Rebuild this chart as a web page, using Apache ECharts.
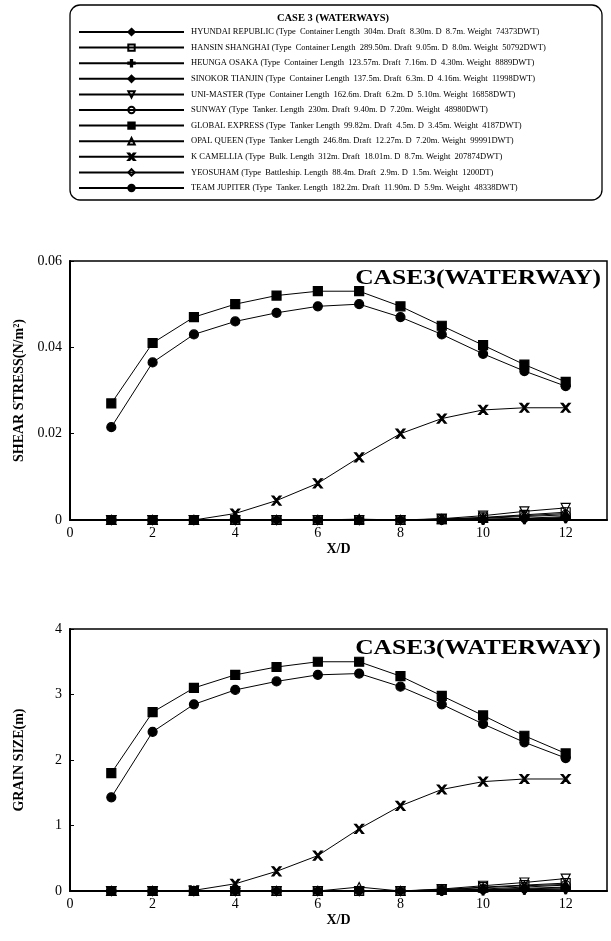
<!DOCTYPE html>
<html>
<head>
<meta charset="utf-8">
<script src="https://cdn.jsdelivr.net/npm/echarts@6/dist/echarts.min.js"></script>
<style>
  body { margin: 0; background: #fff; }
  #chart { width: 611px; height: 941px; }
</style>
</head>
<body>
<div id="chart"></div>
<script>
  // x positions (X/D)
  var xd = [1, 2, 3, 4, 5, 6, 7, 8, 9, 10, 11, 12];

  var shipNames = [
    'HYUNDAI REPUBLIC (Type  Container Length  304m. Draft  8.30m. D  8.7m. Weight  74373DWT)',
    'HANSIN SHANGHAI (Type  Container Length  289.50m. Draft  9.05m. D  8.0m. Weight  50792DWT)',
    'HEUNGA OSAKA (Type  Container Length  123.57m. Draft  7.16m. D  4.30m. Weight  8889DWT)',
    'SINOKOR TIANJIN (Type  Container Length  137.5m. Draft  6.3m. D  4.16m. Weight  11998DWT)',
    'UNI-MASTER (Type  Container Length  162.6m. Draft  6.2m. D  5.10m. Weight  16858DWT)',
    'SUNWAY (Type  Tanker. Length  230m. Draft  9.40m. D  7.20m. Weight  48980DWT)',
    'GLOBAL EXPRESS (Type  Tanker Length  99.82m. Draft  4.5m. D  3.45m. Weight  4187DWT)',
    'OPAL QUEEN (Type  Tanker Length  246.8m. Draft  12.27m. D  7.20m. Weight  99991DWT)',
    'K CAMELLIA (Type  Bulk. Length  312m. Draft  18.01m. D  8.7m. Weight  207874DWT)',
    'YEOSUHAM (Type  Battleship. Length  88.4m. Draft  2.9m. D  1.5m. Weight  1200DT)',
    'TEAM JUPITER (Type  Tanker. Length  182.2m. Draft  11.90m. D  5.9m. Weight  48338DWT)'
  ];

  // shear stress (N/m2)
  var stressHyundai  = [0, 0, 0, 0, 0, 0, 0, 0, 0, 0.0002, 0.0004, 0.0008];
  var stressHansin   = [0, 0, 0, 0, 0, 0, 0, 0, 0.0002, 0.0006, 0.0012, 0.0018];
  var stressHeunga   = [0, 0, 0, 0, 0, 0, 0, 0, 0, 0, 0.0002, 0.0004];
  var stressSinokor  = [0, 0, 0, 0, 0, 0, 0, 0, 0, 0.0001, 0.0003, 0.0006];
  var stressUni      = [0, 0, 0, 0, 0, 0, 0, 0, 0.0003, 0.001, 0.002, 0.0028];
  var stressSunway   = [0, 0, 0, 0, 0, 0, 0, 0, 0.0001, 0.0004, 0.0008, 0.0012];
  var stressGlobal   = [0.027, 0.041, 0.047, 0.050, 0.052, 0.053, 0.053, 0.0495, 0.045, 0.0405, 0.036, 0.032];
  var stressOpal     = [0, 0, 0, 0, 0, 0, 0.0002, 0, 0.0002, 0.0005, 0.001, 0.0015];
  var stressCamellia = [0, 0, 0, 0.0015, 0.0045, 0.0085, 0.0145, 0.020, 0.0235, 0.0255, 0.026, 0.026];
  var stressYeosu    = [0, 0, 0, 0, 0, 0, 0, 0, 0, 0.0001, 0.0002, 0.0004];
  var stressJupiter  = [0.0215, 0.0365, 0.043, 0.046, 0.048, 0.0495, 0.050, 0.047, 0.043, 0.0385, 0.0345, 0.031];

  // grain size (m)
  var grainHyundai  = [0, 0, 0, 0, 0, 0, 0, 0, 0.01, 0.02, 0.04, 0.06];
  var grainHansin   = [0, 0, 0, 0, 0, 0, 0, 0, 0.02, 0.06, 0.09, 0.12];
  var grainHeunga   = [0, 0, 0, 0, 0, 0, 0, 0, 0, 0.01, 0.02, 0.03];
  var grainSinokor  = [0, 0, 0, 0, 0, 0, 0, 0, 0.01, 0.02, 0.03, 0.05];
  var grainUni      = [0, 0, 0, 0, 0, 0, 0, 0, 0.03, 0.08, 0.13, 0.19];
  var grainSunway   = [0, 0, 0, 0, 0, 0, 0, 0, 0.01, 0.03, 0.06, 0.09];
  var grainGlobal   = [1.8, 2.73, 3.1, 3.3, 3.42, 3.5, 3.5, 3.28, 2.98, 2.68, 2.37, 2.1];
  var grainOpal     = [0, 0, 0, 0, 0, 0, 0.06, 0, 0.02, 0.05, 0.08, 0.1];
  var grainCamellia = [0, 0, 0.01, 0.11, 0.3, 0.54, 0.95, 1.3, 1.55, 1.67, 1.71, 1.71];
  var grainYeosu    = [0, 0, 0, 0, 0, 0, 0, 0, 0, 0.01, 0.02, 0.03];
  var grainJupiter  = [1.43, 2.43, 2.85, 3.07, 3.2, 3.3, 3.32, 3.12, 2.85, 2.55, 2.27, 2.03];

  var xTicks = [0, 2, 4, 6, 8, 10, 12];
  var stressTicks = [0, 0.02, 0.04, 0.06];
  var grainTicks = [0, 1, 2, 3, 4];

  var X_PATH = 'path://M0,0 L2,0 L5,3 L8,0 L10,0 L6,4 L6,4 L10,8 L8,8 L5,5 L2,8 L0,8 L4,4 Z';
  var HOLLOW = 'rgba(255,255,255,0)';
  var markers = [
    { symbol: 'diamond', fill: '#000' },
    { symbol: 'rect', fill: HOLLOW },
    { symbol: 'path://M4,0 L6,0 L6,4 L10,4 L10,6 L6,6 L6,10 L4,10 L4,6 L0,6 L0,4 L4,4 Z', fill: '#000' },
    { symbol: 'diamond', fill: '#000' },
    { symbol: 'triangle', fill: HOLLOW, rotate: 180 },
    { symbol: 'circle', fill: HOLLOW },
    { symbol: 'rect', fill: '#000' },
    { symbol: 'triangle', fill: HOLLOW },
    { symbol: X_PATH, fill: '#000' },
    { symbol: 'diamond', fill: HOLLOW },
    { symbol: 'circle', fill: '#000' }
  ];

  var stressData = [stressHyundai, stressHansin, stressHeunga, stressSinokor, stressUni, stressSunway,
                    stressGlobal, stressOpal, stressCamellia, stressYeosu, stressJupiter];
  var grainData = [grainHyundai, grainHansin, grainHeunga, grainSinokor, grainUni, grainSunway,
                   grainGlobal, grainOpal, grainCamellia, grainYeosu, grainJupiter];

  function pairs(vals) {
    return xd.map(function (x, i) { return [x, vals[i]]; });
  }

  function makeSeries(vals, i, gridIdx) {
    var m = markers[i];
    return {
      name: shipNames[i],
      type: 'line',
      xAxisIndex: gridIdx,
      yAxisIndex: gridIdx,
      data: pairs(vals),
      symbol: m.symbol,
      symbolRotate: m.rotate || 0,
      symbolSize: 9,
      showAllSymbol: true,
      lineStyle: { color: '#000', width: 1 },
      itemStyle: { color: m.fill, borderColor: '#000', borderWidth: 1.2 },
      emphasis: { disabled: true },
      animation: false
    };
  }

  var series = [];
  grainData.forEach(function (v, i) { series.push(makeSeries(v, i, 1)); });
  stressData.forEach(function (v, i) { series.push(makeSeries(v, i, 0)); });

  var serif = 'Liberation Serif';

  function xAxisFor(gridIdx) {
    return {
      gridIndex: gridIdx,
      type: 'value',
      min: 0, max: 13, interval: 2,
      name: 'X/D',
      nameLocation: 'middle',
      nameGap: 22,
      nameTextStyle: { fontFamily: serif, fontWeight: 'bold', fontSize: 14, color: '#000' },
      axisLine: { lineStyle: { color: '#000', width: 2 } },
      axisTick: { inside: true, length: 4, lineStyle: { color: '#000' } },
      axisLabel: { showMaxLabel: false, fontFamily: serif, fontSize: 14, color: '#000', margin: 6 },
      splitLine: { show: false }
    };
  }

  function yAxisFor(gridIdx, name, max, interval, dec) {
    return {
      gridIndex: gridIdx,
      type: 'value',
      min: 0, max: max, interval: interval,
      name: name,
      nameLocation: 'middle',
      nameGap: 44,
      nameTextStyle: { fontFamily: serif, fontWeight: 'bold', fontSize: 14, color: '#000' },
      axisLine: { lineStyle: { color: '#000', width: 2 } },
      axisTick: { inside: true, length: 4, lineStyle: { color: '#000' } },
      axisLabel: {
        fontFamily: serif, fontSize: 14, color: '#000', margin: 8,
        formatter: function (v) { return v === 0 ? '0' : v.toFixed(dec); }
      },
      splitLine: { show: false }
    };
  }

  var chart = echarts.init(document.getElementById('chart'));
  chart.setOption({
    backgroundColor: '#fff',
    animation: false,
    grid: [
      { left: 70, top: 261, width: 537, height: 259, show: true, borderColor: '#000', borderWidth: 1.5, backgroundColor: 'transparent' },
      { left: 70, top: 629, width: 537, height: 262, show: true, borderColor: '#000', borderWidth: 1.5, backgroundColor: 'transparent' }
    ],
    xAxis: [xAxisFor(0), xAxisFor(1)],
    yAxis: [
      yAxisFor(0, 'SHEAR STRESS(N/m\u00B2)', 0.06, 0.02, 2),
      yAxisFor(1, 'GRAIN SIZE(m)', 4, 1, 0)
    ],
    legend: {
      data: shipNames,
      orient: 'vertical',
      left: 73,
      top: 22.5,
      itemWidth: 105,
      itemHeight: 8,
      itemGap: 6.6,
      textStyle: { fontFamily: serif, fontSize: 8.5, color: '#000', padding: [0, 0, 0, 2] },
      selectedMode: false
    },
    graphic: [
      {
        type: 'rect',
        shape: { x: 70, y: 5, width: 532, height: 195, r: 10 },
        style: { fill: 'none', stroke: '#000', lineWidth: 1.3 }
      },
      {
        type: 'text', x: 333, y: 18,
        style: { text: 'CASE 3 (WATERWAYS)', font: 'bold 10.5px "Liberation Serif"', fill: '#000', textAlign: 'center', textVerticalAlign: 'middle' }
      },
      {
        type: 'text', x: 601, y: 278, scaleX: 1.16,
        style: { text: 'CASE3(WATERWAY)', font: 'bold 22px "Liberation Serif"', fill: '#000', textAlign: 'right', textVerticalAlign: 'middle' }
      },
      {
        type: 'text', x: 601, y: 648, scaleX: 1.16,
        style: { text: 'CASE3(WATERWAY)', font: 'bold 22px "Liberation Serif"', fill: '#000', textAlign: 'right', textVerticalAlign: 'middle' }
      }
    ],
    series: series
  });
</script>
</body>
</html>
